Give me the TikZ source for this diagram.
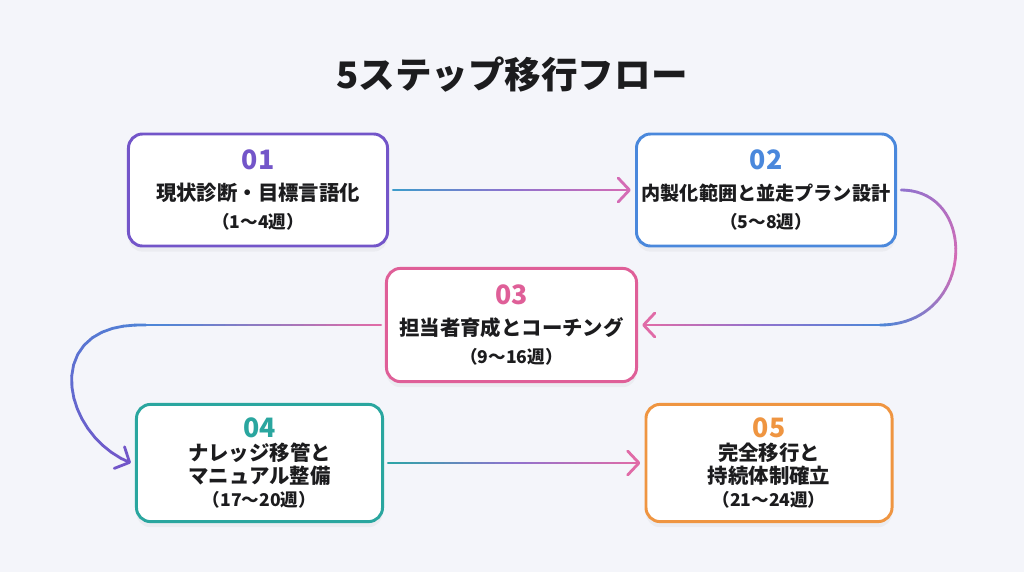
\documentclass[tikz,border=0pt]{standalone}
\usepackage{fontspec}
\setmainfont{Noto Sans CJK JP}
\usetikzlibrary{arrows.meta, calc, shadows, decorations.markings}
\definecolor{bgpale}{HTML}{F4F5FA}
\definecolor{inkdark}{HTML}{1C1C1E}
\definecolor{stepone}{HTML}{7355C9}
\definecolor{steptwo}{HTML}{4A88DC}
\definecolor{stepthree}{HTML}{DF5F98}
\definecolor{stepfour}{HTML}{2AA69F}
\definecolor{stepfive}{HTML}{EF9541}
\definecolor{lncyan}{HTML}{3C9DCB}
\definecolor{lnviolet}{HTML}{8F72CE}
\definecolor{lnpink}{HTML}{D66BB4}
\definecolor{lnblue}{HTML}{4C86D7}
\definecolor{lnteal}{HTML}{2BA6A6}
\definecolor{lnrose}{HTML}{E26BA6}

\newcommand{\numfont}{\fontsize{19}{22}\selectfont\bfseries}
\newcommand{\subfont}{\fontsize{12.5}{15}\selectfont\bfseries}

% connector with a colour run: path, end point, tip, three colours
\newcommand{\gradconn}[6]{%
  \path[decorate, decoration={markings,
    mark=between positions 0 and 0.99 step 0.025 with {\coordinate (gq\pgfkeysvalueof{/pgf/decoration/mark info/sequence number});}}] #1;
  \foreach \i in {1,...,40} {
    \pgfmathtruncatemacro{\j}{\i+1}
    \pgfmathsetmacro{\t}{(\i-0.5)/40}
    \ifdim\t pt<0.5pt
      \pgfmathsetmacro{\p}{\t*200}\colorlet{segcol}{#5!\p!#4}
    \else
      \pgfmathsetmacro{\p}{(\t-0.5)*200}\colorlet{segcol}{#6!\p!#5}
    \fi
    \ifnum\i<40
      \draw[flow, segcol] (gq\i) -- (gq\j);
    \else
      \draw[flow, segcol, #3] (gq\i) -- #2;
    \fi
  }%
}

\begin{document}
\begin{tikzpicture}[
    x=0.025cm, y=-0.025cm,
    stepbox/.style={rectangle, draw, line width=2.1pt, rounded corners=10pt, fill=white, align=center,
        inner sep=0pt, outer sep=4pt, text=inkdark, font=\fontsize{14.5}{17}\selectfont\bfseries,
        drop shadow={opacity=0.07, shadow xshift=0pt, shadow yshift=-4pt}},
    widebox/.style={stepbox, minimum width=6.475cm, minimum height=2.8cm},
    lowbox/.style={stepbox, minimum width=6.15cm, minimum height=2.93cm, font=\fontsize{14.5}{16.2}\selectfont\bfseries},
    flow/.style={line width=2pt, line cap=round},
    flowtip/.style={-{Straight Barb[length=8pt, width=17pt, round]}}
]

% Background
\fill[bgpale] (0,0) rectangle (1024,572);
\useasboundingbox (0,0) rectangle (1024,572);

% Title
\node[font=\fontsize{26}{30}\selectfont\bfseries, text=inkdark] (title) at (512,75) {5ステップ移行フロー};

% Steps
\node[widebox, draw=stepone] (s1) at (258,190)
    {{\numfont\color{stepone}01}\\[5.3pt]現状診断・目標言語化\\[2.8pt]{\subfont （1〜4週）}};
\node[widebox, draw=steptwo] (s2) at (766,190)
    {{\numfont\color{steptwo}02}\\[5.3pt]{\fontsize{13.6}{17}\selectfont 内製化範囲と並走プラン設計}\\[2.8pt]{\subfont （5〜8週）}};
\node[stepbox, draw=stepthree, minimum width=6.25cm, minimum height=2.83cm] (s3) at (511.5,325)
    {{\numfont\color{stepthree}03}\\[5.3pt]担当者育成とコーチング\\[2.8pt]{\subfont （9〜16週）}};
\node[lowbox, draw=stepfour] (s4) at (259.5,463)
    {{\numfont\color{stepfour}04}\\ナレッジ移管と\\マニュアル整備\\{\subfont （17〜20週）}};
\node[lowbox, draw=stepfive] (s5) at (769,463)
    {{\numfont\color{stepfive}05}\\完全移行と\\持続体制確立\\{\subfont （21〜24週）}};

% Turning points
\coordinate (turnR) at (880,325);
\coordinate (turnL) at (140,325);

% Connectors
\gradconn{(s1.east) -- (s2.west)}{(s2.west)}{flowtip}{lncyan}{lnviolet}{lnpink}
\gradconn{(s2.east) .. controls +(78,0) and +(95,0) .. (turnR)}{(turnR)}{-}{lnviolet}{lnpink}{lnblue}
\gradconn{(turnR) -- (s3.east)}{(s3.east)}{flowtip}{lnblue}{lnviolet}{lnrose}
\gradconn{(s3.west) -- (turnL) .. controls +(-100,0) and +(-70,-28) .. (s4.west)}{(s4.west)}{flowtip}{lnrose}{lnblue}{stepone}
\gradconn{(s4.east) -- (s5.west)}{(s5.west)}{flowtip}{lnteal}{lnviolet}{lnrose}

\end{tikzpicture}
\end{document}
